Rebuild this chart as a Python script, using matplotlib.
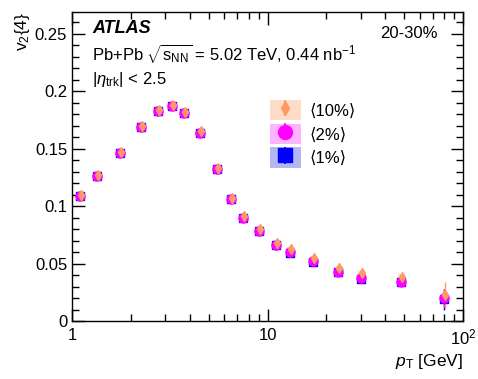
import numpy as np
import matplotlib.pyplot as plt
from matplotlib.patches import Rectangle, Patch
from matplotlib.legend_handler import HandlerTuple
from matplotlib.ticker import MultipleLocator, FixedLocator, FixedFormatter

plt.rcParams['font.family'] = ['Liberation Sans', 'DejaVu Sans']
plt.rcParams['mathtext.fontset'] = 'custom'
plt.rcParams['mathtext.rm'] = 'Liberation Sans'
plt.rcParams['mathtext.it'] = 'Liberation Sans:italic'

# ── data ─────────────────────────────────────────────────────────────────────
pt = np.array([1.1, 1.35, 1.75, 2.25, 2.75, 3.25, 3.75, 4.5, 5.5, 6.5, 7.5, 9.0,
               11.0, 13.0, 17.0, 23.0, 30.0, 48.0, 80.0])
pt_err = pt * 0.05

v2_1 = np.array([0.109, 0.126, 0.146, 0.169, 0.183, 0.187, 0.181, 0.164, 0.132,
                 0.106, 0.090, 0.078, 0.066, 0.0595, 0.051, 0.0425, 0.0365, 0.034, 0.019])
v2_2 = np.array([0.109, 0.126, 0.146, 0.169, 0.183, 0.187, 0.181, 0.164, 0.132,
                 0.106, 0.090, 0.078, 0.066, 0.060, 0.052, 0.043, 0.037, 0.034, 0.020])
v2_10 = np.array([0.110, 0.127, 0.147, 0.170, 0.184, 0.188, 0.182, 0.165, 0.133,
                  0.107, 0.091, 0.080, 0.068, 0.063, 0.055, 0.046, 0.042, 0.0385, 0.0225])
stat_1 = np.array([0.0005] * 15 + [0.001, 0.0015, 0.002, 0.009])
stat_2 = np.array([0.0005] * 15 + [0.001, 0.0015, 0.002, 0.008])
stat_10 = np.array([0.0005] * 15 + [0.0015, 0.002, 0.0025, 0.0115])
syst = np.array([0.0015] * 15 + [0.002, 0.002, 0.002, 0.003])

series = [
    ('⟨1%⟩', v2_1, stat_1, 1.0, 's', '#0000ff', '#b3b8f5', 5.5, 9.5),
    ('⟨2%⟩', v2_2, stat_2, 1.0, 'o', '#ff00ff', '#ffb3ff', 6.5, 10.0),
    ('⟨10%⟩', v2_10, stat_10, 1.012, 'd', '#ff9966', '#ffdcc8', 5.0, 7.0),
]

# ── plot ─────────────────────────────────────────────────────────────────────
fig = plt.figure(figsize=(4.78, 3.79), dpi=100)
ax = fig.add_axes([72 / 478, 1 - 321 / 379, (463 - 72) / 478, (321 - 12) / 379])
ax.set_xscale('log')

handles = {}
for label, y, ey, shift, mk, col, boxcol, ms, ms_leg in series:
    x = pt * shift
    for xi, yi, si in zip(x, y, syst):
        ax.add_patch(Rectangle((xi * 0.96, yi - si), xi * 0.08, 2 * si,
                               facecolor=boxcol, edgecolor='none', alpha=0.8, zorder=1))
    ax.errorbar(x, y, xerr=pt_err, fmt='none', ecolor=col, elinewidth=1.0, alpha=0.25, zorder=2)
    ax.errorbar(x, y, yerr=ey, fmt=mk, color=col, ms=ms, elinewidth=1.0, capsize=0, zorder=3)
    handles[label] = (Patch(facecolor=boxcol, edgecolor='none'),
                      ax.errorbar([], [], yerr=[], fmt=mk, color=col, ms=ms_leg, elinewidth=1.2))

order = ['⟨10%⟩', '⟨2%⟩', '⟨1%⟩']
ax.legend([handles[k] for k in order], order,
          handler_map={tuple: HandlerTuple(ndivide=1, pad=0)},
          loc='upper left', bbox_to_anchor=(0.506, 0.715), frameon=False, fontsize=12,
          borderpad=0, borderaxespad=0,
          handlelength=1.86, handleheight=1.5, labelspacing=0.2, handletextpad=0.55)

ax.set_xlim(1, 100)
ax.set_ylim(0, 0.269)
ax.yaxis.set_minor_locator(MultipleLocator(0.01))
ax.set_yticks([0, 0.05, 0.1, 0.15, 0.2, 0.25])
ax.set_yticklabels(['0', '0.05', '0.1', '0.15', '0.2', '0.25'])
ax.xaxis.set_major_locator(FixedLocator([1, 10, 100]))
ax.xaxis.set_major_formatter(FixedFormatter(['1', '10', '$10^2$']))
ax.tick_params(which='both', direction='in', top=True, right=True, labelsize=12)
ax.tick_params(which='major', length=9, width=1)
ax.tick_params(which='minor', length=5, width=1)
ax.tick_params(axis='x', which='major', pad=5)
for sp in ax.spines.values():
    sp.set_linewidth(1.0)

ax.set_xlabel('$p_{\\rm T}$ [GeV]', fontsize=12.5, loc='right', labelpad=3)
ax.set_ylabel('v$_2${4}', fontsize=12.5, loc='top', labelpad=2)

ax.text(0.051, 0.948, 'ATLAS', transform=ax.transAxes, fontsize=13, fontweight='bold',
        style='italic', va='center')
ax.text(0.051, 0.867, 'Pb+Pb $\\sqrt{\\mathrm{s}_{\\mathrm{NN}}}$ = 5.02 TeV, 0.44 nb$^{-1}$',
        transform=ax.transAxes, fontsize=12, va='center')
ax.text(0.051, 0.78, '|$\\eta_{\\mathrm{trk}}$| < 2.5', transform=ax.transAxes, fontsize=12,
        va='center')
ax.text(0.936, 0.932, '20-30%', transform=ax.transAxes, fontsize=12, ha='right', va='center')

fig.savefig('out.png', dpi=100)
